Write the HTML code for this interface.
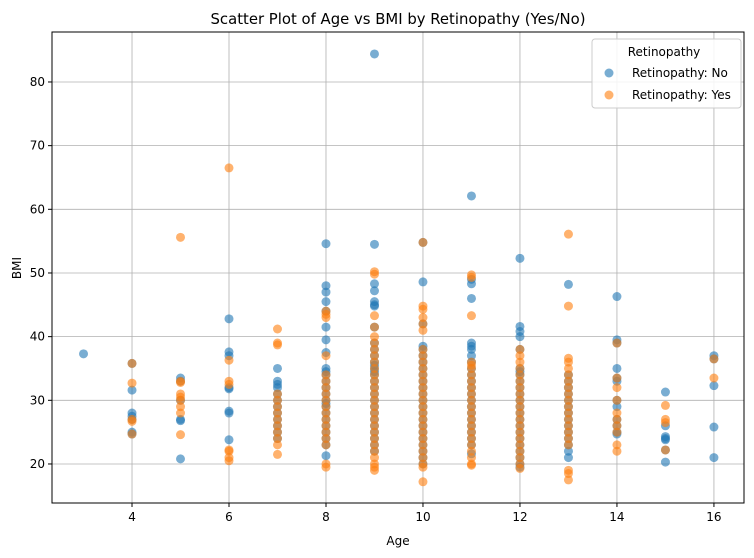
<!DOCTYPE html>
<html><head><meta charset="utf-8"><style>
html,body{margin:0;padding:0;background:#fff;}
svg{display:block;font-family:"DejaVu Sans","Liberation Sans",sans-serif;}
</style></head><body>
<svg id="chart" width="754" height="558" xmlns="http://www.w3.org/2000/svg">
<text x="398" y="24" text-anchor="middle" font-size="15" textLength="375" lengthAdjust="spacingAndGlyphs" fill="#000">Scatter Plot of Age vs BMI by Retinopathy (Yes/No)</text>
<g id="grid"></g>
<g id="pts"></g>
<rect x="52" y="32" width="692" height="471" fill="none" stroke="#000" stroke-width="1"/>
<g id="ticks"></g>
<text x="398" y="545" text-anchor="middle" font-size="12">Age</text>
<text x="21" y="268" text-anchor="middle" font-size="12" transform="rotate(-90 21 268)">BMI</text>
<g>
<rect x="592" y="39" width="149" height="69" rx="3" fill="#fff" fill-opacity="0.85" stroke="#ccc"/>
<text x="664" y="56" text-anchor="middle" font-size="12">Retinopathy</text>
<circle cx="609" cy="73" r="4.5" fill="#1f77b4" fill-opacity="0.6"/>
<text x="632" y="77" font-size="12">Retinopathy: No</text>
<circle cx="609" cy="95" r="4.5" fill="#ff7f0e" fill-opacity="0.6"/>
<text x="632" y="99" font-size="12">Retinopathy: Yes</text>
</g>
</svg>
<script>
const ages = [3,4,5,6,7,8,9,10,11,12,13,14,15,16];
const noBmi = [
[37.3],
[35.8,31.6,28,27.5,27,25,24.7],
[33.5,33,30,27,26.8,20.8],
[42.8,37.6,37,32,31.8,28.3,28,23.8],
[35,33,32.5,32,31,30,29,28,27,26,25,24],
[54.6,48,47,45.5,44,41.5,39.5,37.5,35,34.5,34,33,32,31,30,29.5,29,28,27,26,25,24,23,21.3],
[84.4,54.5,48.3,47.2,45.5,45,44.8,41.5,39,38,37,36,35.5,35,34.5,34,33,32,31,30,29,28,27,26,25,24,23,22],
[54.8,48.6,42,38.5,38,37,36,35,34,33,32,31,30,29,28,27,26,25,24,23,22,21,20],
[62.1,49,48.3,46,39,38.5,38,37,36,35,34,33,32,31,30,29,28,27,26,25,24,23,21.6],
[52.3,41.6,40.8,40,38,35,34.5,34,33,32,31,30,29,28,27,26,25,24,23,22,21,20,19.5],
[48.2,34,33,32,31,30,29,28,27,26,25,24,23,22,21],
[46.3,39.5,39,35,33.5,33,30,29,27,26,25,24.7],
[31.3,26,24.3,24,23.8,22.2,20.3],
[37,36.5,32.3,25.8,21]
];
const yesBmi = [
[],
[35.8,32.7,27,26.7,24.7],
[55.6,33,32.8,31,30.5,30,29,28,24.6],
[66.5,36.3,33,32.5,22.2,22,21,20.5],
[41.2,39,38.7,31,30,29,28,27,26,25,24,23,21.5],
[44,43.5,43,37,34,33,32,31,30,29,28,27,26,25,24,23,20,19.5],
[50.2,49.8,43.3,41.5,40,39,38,37,36,35,34,33,32,31,30,29,28,27,26,25,24,23,22,21,20,19.5,19],
[54.8,44.8,44.3,43,42,41,38,37,36,35,34,33,32,31,30,29,28,27,26,25,24,23,22,21,20,19.5,17.2],
[49.7,49.3,43.3,36,35.5,35,34,33,32,31,30,29,28,27,26,25,24,23,22,21,20,19.8],
[38,37,36,35,34,33,32,31,30,29,28,27,26,25,24,23,22,21,20,19.3],
[56.1,44.8,36.6,36,35,34,33,32,31,30,29,28,27,26,25,24,23,19,18.5,17.5],
[39,33.5,32,30,28,27,26,25,23,22],
[29.2,27,26.5,22.2],
[36.5,33.5]
];
const xTicks = [4,6,8,10,12,14,16];
const yTicks = [20,30,40,50,60,70,80];

const X0=52,X1=744,Y0=32,Y1=503;
const xMin=2.35,xMax=16.62,yMin=13.87,yMax=87.85;
const xs=v=>X0+(v-xMin)/(xMax-xMin)*(X1-X0);
const ys=v=>Y1-(v-yMin)/(yMax-yMin)*(Y1-Y0);
const NS="http://www.w3.org/2000/svg";
const grid=document.getElementById('grid'),tk=document.getElementById('ticks'),pts=document.getElementById('pts');
function mk(t,a){const e=document.createElementNS(NS,t);for(const k in a)e.setAttribute(k,a[k]);return e;}
xTicks.forEach(v=>{
  const x=xs(v);
  const g=mk('line',{x1:x,x2:x,y1:Y0,y2:Y1,stroke:'#b0b0b0','stroke-width':0.8});
  
  
  grid.appendChild(g);
  const t=mk('line',{x1:x,x2:x,y1:Y1,y2:Y1+4,stroke:'#000'});
  
  
  tk.appendChild(t);
  const l=mk('text',{x:x,y:Y1+18,'text-anchor':'middle','font-size':12});
  l.textContent=v;
  
  
  tk.appendChild(l);
});
yTicks.forEach(v=>{
  const y=ys(v);
  const g=mk('line',{x1:X0,x2:X1,y1:y,y2:y,stroke:'#b0b0b0','stroke-width':0.8});
  
  
  grid.appendChild(g);
  const t=mk('line',{x1:X0-4,x2:X0,y1:y,y2:y,stroke:'#000'});
  
  
  tk.appendChild(t);
  const l=mk('text',{x:X0-7,y:y+4,'text-anchor':'end','font-size':12});
  l.textContent=v;
  
  
  tk.appendChild(l);
});
function draw(series,color,name){
  ages.forEach((a,i)=>{
    series[i].forEach(b=>{
      const c=mk('circle',{cx:xs(a),cy:ys(b),r:4.5,fill:color,'fill-opacity':0.6});
      
      
      pts.appendChild(c);
    });
  });
}
draw(noBmi,'#1f77b4','point-no');
draw(yesBmi,'#ff7f0e','point-yes');
</script>
</body></html>
